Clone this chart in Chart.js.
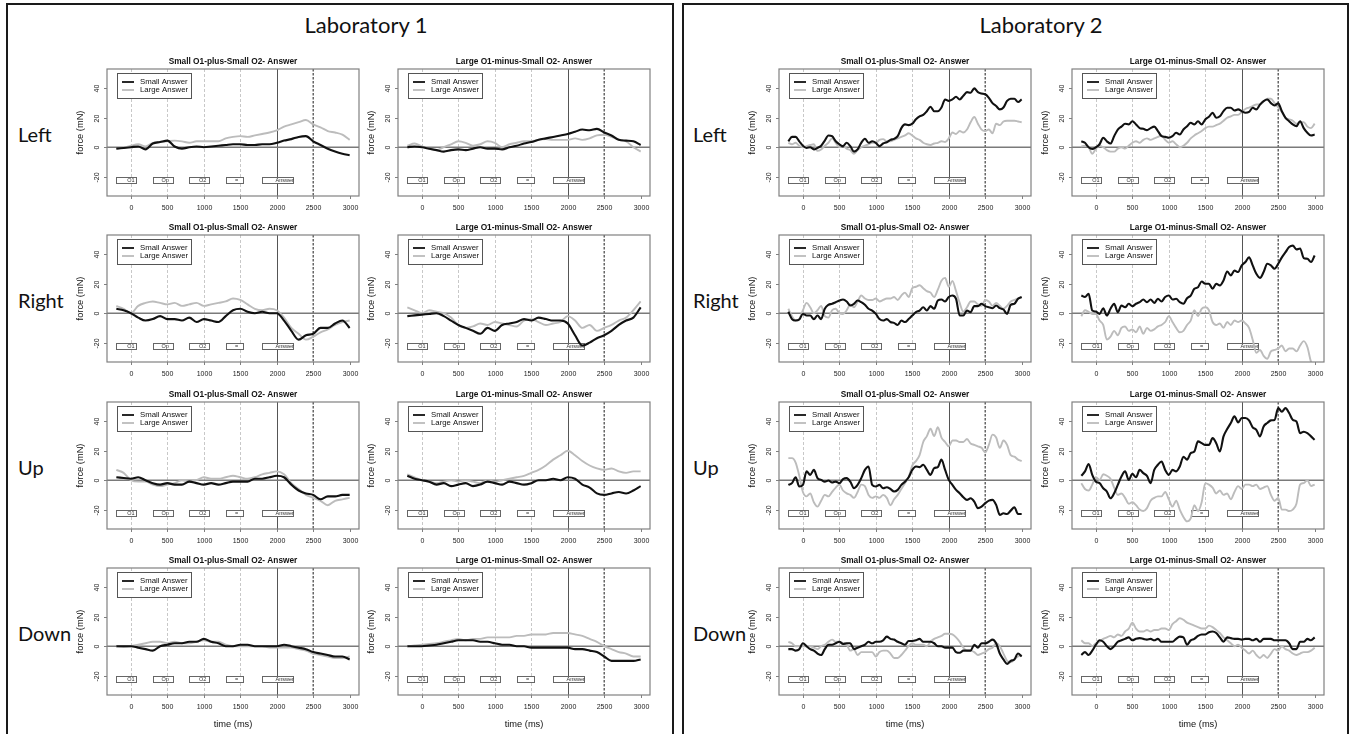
<!DOCTYPE html>
<html><head><meta charset="utf-8">
<script src="https://cdn.jsdelivr.net/npm/chart.js@4.4.1/dist/chart.umd.min.js"></script>
<style>
body{margin:0;background:#fff;width:1354px;height:734px;overflow:hidden;position:relative;font-family:'Liberation Sans',Arial,sans-serif}
.frame{position:absolute;border:2px solid #1a1a1a;box-sizing:border-box}
.lab{position:absolute;font-family:Lato,sans-serif;font-size:22px;line-height:22px;color:#111;white-space:nowrap;transform:translateX(-50%)}
.rowlab{position:absolute;font-family:Lato,sans-serif;font-size:20px;line-height:20px;color:#111;white-space:nowrap}
canvas{position:absolute}
</style></head><body>
<div class="frame" style="left:6px;top:3px;width:668px;height:745px"></div>
<div class="frame" style="left:682px;top:3px;width:667px;height:745px"></div>
<script>
// ---------------- DATA ----------------
const labTitles = ["Laboratory 1", "Laboratory 2"];
const rowNames = ["Left", "Right", "Up", "Down"];
const panelTitles = ["Small O1-plus-Small O2- Answer", "Large O1-minus-Small O2- Answer"];
const seriesNames = ["Small Answer", "Large Answer"];
const xTicks = [0, 500, 1000, 1500, 2000, 2500, 3000];
const yTicks = [-20, 0, 20, 40];
const eventLabels = ["O1", "Op", "O2", "=", "Answer"];
const eventStart = [-200, 300, 800, 1300, 1800];
const eventEnd = [80, 575, 1075, 1530, 2230];
const eventTextAt = [0, 470, 985, 1450, 2110];
const lightMarks = [0, 500, 1000, 1500];
const answerOnset = 2000;
const answerEnd = 2500;

const time100 = [-200,-100,0,100,200,300,400,500,600,700,800,900,1000,1100,1200,1300,1400,1500,1600,1700,1800,1900,2000,2100,2200,2300,2400,2500,2600,2700,2800,2900,3000];
const time50 = [-200,-150,-100,-50,0,50,100,150,200,250,300,350,400,450,500,550,600,650,700,750,800,850,900,950,1000,1050,1100,1150,1200,1250,1300,1350,1400,1450,1500,1550,1600,1650,1700,1750,1800,1850,1900,1950,2000,2050,2100,2150,2200,2250,2300,2350,2400,2450,2500,2550,2600,2650,2700,2750,2800,2850,2900,2950,3000];

// Laboratory 1 (100 ms grid)
const L1_left_A_small = [-1,-0.5,0,0.5,-1.5,2.5,3.5,4.5,0.5,-1,0,0.5,0,0.5,1,1.5,2,2,1.5,1.5,2,2,3,4.5,5.5,7,7.5,4,1.5,-1,-3,-4.5,-5.5];
const L1_left_A_large = [-1,-0.5,1,2,0.5,3,3.5,4,4.5,4,3,4,4,4,4,6,7,7.5,7,8,9,10,11.5,14,15.5,17,18.5,15.5,13.5,11,10,8.5,5];
const L1_left_B_small = [0,0.5,0,-1,-2,-3,-2,-1.5,-2,-1,0,-1,-1,-1.5,0,1,2.5,3.5,5,6,7,8,9,10.5,12,11.5,12.5,10,8,5,4.5,4,1.5];
const L1_left_B_large = [1,2.5,0.5,-1,-2,0,2,4,3,1,2,4,3,0,2,3,4,4,5,5.5,5,5,5,6,5,6,8,8.5,7,5,4,0,-3];
const L1_right_A_small = [3,2,0,-3,-5,-4,-2,-4,-4,-5,-3,-6,-4,-5,-6,-2,2,3,1,0,1,0,0,-5,-12,-18,-15,-14,-10,-10,-7,-5,-10];
const L1_right_A_large = [5,3,0,5,7,8,7,6,7,5,6,7,5,6,7,8,10,9,6,3,2,3,2,-3,-10,-14,-18,-16,-13,-11,-8,-6,-5];
const L1_right_B_small = [-2,-1.5,-1,-0.5,0,-2,-5,-8,-10,-12,-14,-10,-12,-8,-7,-6,-4,-5,-3,-4,-5,-5,-7,-15,-22,-20,-17,-15,-12,-8,-5,-3,4];
const L1_right_B_large = [4,2,0,2,1,0,-3,-8,-10,-9,-7,-8,-6,-7,-8,-9,-5,-4,-6,-8,-7,-6,-2,-5,-10,-8,-12,-10,-8,-5,-3,2,8];
const L1_up_A_small = [2,1.5,1,2,0,-2,-3,-2,-3,-3,-1,-2,-3,-2,-3,-2,-1,-1,-1,1,1,2,3,2,-3,-7,-9,-10,-13,-11,-11,-10,-10];
const L1_up_A_large = [7,5,0,-1,-1,-3,-4,-3,-2,0,-1,0,2,1,1,2,3,2,1,2,4,5,6,4,-2,-6,-10,-12,-14,-17,-14,-13,-12];
const L1_up_B_small = [3,1,0,-1,-3,-2,-4,-3,-2,-4,-3,-1,-2,-3,-1,-2,-3,-2,0,0,1,0,2,1,-3,-5,-9,-10,-9,-8,-9,-7,-4];
const L1_up_B_large = [4,2,0,-1,-2,-1,0,-1,0,-1,-2,0,-1,0,1,2,3,5,7,10,14,17,20,17,13,10,8,7,8,6,5,6,6];
const L1_down_A_small = [0,0,0,-1,-2,-3,0,1,2,2,3,3,5,3,2,0,0,1,1,0,0,0,0,1,0,-1,-2,-4,-5,-6,-7,-7,-9];
const L1_down_A_large = [0,-0.5,0,1,2,3,3,2,3,2,2,3,4,3,3,1,0,0,0,0,0,-1,-1,-1,-1,-2,-3,-5,-6,-7,-8,-8,-7];
const L1_down_B_small = [0,0,0,0.5,1,2,3,4,4,4,3,3,2,1,1,0,0,-1,-1,-1,-1,-1,-1,-2,-2,-3,-4,-7,-10,-10,-10,-10,-9];
const L1_down_B_large = [0,0.5,1,1.5,2,3,4,5,4,5,5,6,6,6,6,7,7,8,8,8,9,9,9,8,7,5,3,0,-2,-4,-5,-7,-7];

// Laboratory 2 (50 ms grid)
const L2_left_A_small = [4,7,7,4,1,-0.5,0,-1.5,-0.5,1,4.5,8,7.5,4,2,0.7,3,0.7,-3,-1.5,3,5.7,3,4,3,0.7,2.5,3.4,5,5.7,7.5,13,15.5,15,16,19,21,22,24.5,27.5,24.5,24.5,27,32.5,31.5,32.5,34.3,32.5,35,37.5,37,40,37.5,36.5,36,33.6,30,28,25.7,27,31.5,33,33,30.7,32.5];
const L2_left_A_large = [3,2,3,1,0,0.7,1.5,2,-2.5,-1.5,1,3,6,3,0,1,-1,-2,-4.5,-2,0,1,2,3,3,5,5.5,4,4,5,6,7,8,9.5,8,6,5,3,2,1.5,2.5,3,4,3.5,6,10,9,11,10,12,17,20.5,16,12,11,12,9.5,16,15,17.5,18,18,18,17.5,17];
const L2_left_B_small = [4,3,0,-1.2,0,2,6.4,4,2.5,7.5,12,14,16,15.5,17.7,15.5,13,12.5,11.6,13,14,11,7.5,7,6.4,7.5,9.8,8.6,12,14.3,16.6,15.5,17.7,15.5,18.9,20.7,23.4,20,21,24.5,26.8,26.8,25,25.7,24.5,23.4,24,26.8,25.7,29,31.4,32.5,30,28.4,29.8,24.5,20,17.7,15.5,14.3,17.7,13,9.8,8,8.6];
const L2_left_B_large = [0.5,1,0,-4.5,-1,1,0,-2,-3,-3,-1,0,-1,1,3,4,3,5,6,5,6,7,8,5,3,4,2,0,1,3,6,8,9.5,11,13,14,14,15,16,18,20,21,22,22,24,26,27,28,29,29,31,33,33,30,27,24,20,19,18,16,17,17,14,13,16];
const L2_right_A_small = [1,-4,-5,-4.3,-0.5,-1.6,-1.6,-4,-1.6,-4,3,5.7,6.4,7.5,8.6,9.3,8,5.2,6.4,8.6,7.5,5.7,3,1.8,-0.5,-4,-5,-4,-6,-6.6,-8,-5,-6,-4,-1.6,0.7,1.8,4,1.8,4.8,3,8.6,9.3,8,11,12,9.8,-1.6,-1.6,1.8,0.7,4.8,4.8,6.4,4.8,4,3.4,5.2,3.4,2.5,-0.5,5.7,6.4,9.8,11];
const L2_right_A_large = [3,-2,-5,-4,2,7,4,0,2,5,-2,-3,2,3,0,-0.5,2,6,4,8,12,10,9,9,10,8,9,10,10,11,9,12,14,11,17,18,19,17,15,14,11,16,22,24,18,22,15,7,1,4,8,8,6,5,9,8,5,7,5,3,5,8,9,10,11];
const L2_right_B_small = [12,11,13.2,1.8,1.1,-0.5,3.4,-1.6,3,6.4,0.7,5.2,4,6.4,4.8,6.4,7.5,9.3,7.5,9.3,7,9.8,8,11,12,9.3,9.8,7.5,6.4,10.2,12,16.6,17.7,21.6,20,20,16.6,20,18.9,22.3,28.4,25.7,29,28,32.5,34.8,38,32.5,26.8,24,28,33.6,32.5,30.2,33.6,38,41.5,45,46,43.4,44,37.5,37,34.8,39.3];
const L2_right_B_large = [-2,2,1,-0.5,-0.5,-5,-8,-18,-16,-12,-15,-10,-9,-12,-11,-13,-9,-14,-10,-12,-11,-9,-8,-6,-2,-6,-10,-13,-12,-8,-5,2,-2,3,4,2,-6,-8,-7,-10,-6,-8,-5,-6,-5,-7,-10,-18,-27,-25,-29,-31,-26,-25,-24,-22,-26,-24,-24,-26,-22,-19,-23,-33,-36];
const L2_up_A_small = [-3.2,-2,2,-4.3,-3.2,6,3.6,7,1.4,0.2,-1,-0.2,-1.6,-1,-2,0.7,1.4,-1,-5.5,-3.2,1.4,7,9.3,-3.2,-4.3,-3.2,-5.5,-4.8,-6,-7.7,-6.6,-3.2,-1,2,7,9.3,8.9,10.5,7,3.6,8.2,8.9,14,7,0.2,-3.2,-6.6,-8.9,-11.6,-13.4,-12.3,-14.5,-19,-18,-15.7,-13.9,-13.4,-16.8,-23.6,-22.5,-23,-20.7,-18.4,-23,-23];
const L2_up_A_large = [15,15,12,3,-8,-11,-9,-15,-18,-14,-10,-11,-8,-5,-3,-7,-9,-10,-12,-8,-3,-4,-10,-12,-11,-12,-10,-12,-17,-13,-10,-6,-2,2,10,13,17,26,30,35,30,36,29,26,23,27,27,26,26,28,25,24,23,22,19,24,31,29,22,27,24,17,16,14,13];
const L2_up_B_small = [3,6,11,3.6,-1,-2,-5.5,-7.7,-12.3,-8.9,-3.2,2.5,6,0.2,4.3,2,7,4.8,3,-2,7,10.5,12.7,7,3.6,7,6,9.3,16,14,18.4,19.5,26.4,25.2,24,24,28.6,25.2,19.5,29.8,34.8,38.9,43.4,39.3,42.3,42.3,40.7,36,34.3,29.8,36.6,38.9,40.7,41,49,46.6,49,45.7,41,40,32,33,32,29.8,27.5];
const L2_up_B_large = [-2,-6,-7,-3,2,0,4,3,1,-5,-10,-9,-12,-16,-15,-17,-20,-21,-19,-14,-12,-11,-11,-8,-13,-18,-14,-20,-25,-28,-26,-17,-21,-15,-2,-3,-5,-9,-7,-10,-9,-13,-8,-4,-6,-3,-3,-4,-3,-6,-5,-4,-10,-14,-12,-20,-20,-21,-20,-16,-3,-2,0,-4,-3];
const L2_down_A_small = [-2,-2,-3,-2,2,0,-2,-3,-5,-6,-2,1,1,2,3,1.5,2,2,-2,-1,0,1,3,2,3,3,4,6.5,5,4.5,3,2,1,3.5,3.5,4,5,3,3,3,2,0,0,-1,-1,-1,-4,-4.5,-3,-3,-3,1,-1,2,2,3,4.5,2,-5,-9,-12,-10,-9,-5,-7];
const L2_down_A_large = [3,2,0,0,0,0,0,-1,-2,0,1,3,4.5,3,3,2,1,-3,-2,-6,-4,-4,-4,-4,-7,-4,-3,-3,-5,-8,-8,-6,-3,0,2,1,1,1,0,3,5,6,7,8.5,8.5,8,6,3,-1,-3,-3,-4,-6,-5,-4,-2,-1,2,0,-5,-10,-11,-9,-7,-6];
const L2_down_B_small = [-6,-4,-6,-3,1,4,3,0,-2,0,3,4,5,6,4,5,5.5,5,4.5,5,4,5,3,3,3,3,5,6.5,6,1,4,5,7,8,8,9.5,10,9,6,3,6,5.5,5,5,4.5,5,5,4,5,3,5,5,5,4,4,4,4,2,-2,-2,3,3,5,4,6];
const L2_down_B_large = [4,2,2,0,2,3,5,6,7,6,8,7,10,12,16,12,10,10,11,10,11,11,12,12,11,15,17,19,18,16,15,14,13,12,12,14,13,11,9,6,4,2,0,1,-1,-3,-5,-3,-6,-8,-6,-8,-5,-2,-3,0,-2,-3,-5,-6,-5,-4,-4,-3,-1];

const panels = [
  [0,0,0,time100,L1_left_A_small,L1_left_A_large],[0,0,1,time100,L1_left_B_small,L1_left_B_large],
  [0,1,0,time100,L1_right_A_small,L1_right_A_large],[0,1,1,time100,L1_right_B_small,L1_right_B_large],
  [0,2,0,time100,L1_up_A_small,L1_up_A_large],[0,2,1,time100,L1_up_B_small,L1_up_B_large],
  [0,3,0,time100,L1_down_A_small,L1_down_A_large],[0,3,1,time100,L1_down_B_small,L1_down_B_large],
  [1,0,0,time50,L2_left_A_small,L2_left_A_large],[1,0,1,time50,L2_left_B_small,L2_left_B_large],
  [1,1,0,time50,L2_right_A_small,L2_right_A_large],[1,1,1,time50,L2_right_B_small,L2_right_B_large],
  [1,2,0,time50,L2_up_A_small,L2_up_A_large],[1,2,1,time50,L2_up_B_small,L2_up_B_large],
  [1,3,0,time50,L2_down_A_small,L2_down_A_large],[1,3,1,time50,L2_down_B_small,L2_down_B_large]
];

// ---------------- LAYOUT ----------------
const colLeft = [107, 398, 779, 1072];
const rowTop = [69, 235, 402, 568];
const boxW = 252, boxH = 127;
const padL = 44, padT = 16, padR = 6, padB = 36;
const labCenter = [366, 1041];
const rowLabX = [18, 693];
const FONT = "'Liberation Sans', Arial, sans-serif";
const GRAY_LINE = '#bcbcbc';

labTitles.forEach((t, i) => {
  const d = document.createElement('div');
  d.className = 'lab'; d.textContent = t;
  d.style.left = labCenter[i] + 'px'; d.style.top = '14px';
  document.body.appendChild(d);
  rowNames.forEach((r, j) => {
    const e = document.createElement('div');
    e.className = 'rowlab'; e.textContent = r;
    e.style.left = rowLabX[i] + 'px'; e.style.top = (rowTop[j] + 55) + 'px';
    document.body.appendChild(e);
  });
});

const panelPlugin = {
  id: 'panel',
  beforeDatasetsDraw(chart, args, o) {
    const {ctx, chartArea: a, scales: {x, y}} = chart;
    ctx.save();
    ctx.beginPath(); ctx.rect(a.left, a.top, a.right - a.left, a.bottom - a.top); ctx.clip();
    ctx.strokeStyle = '#c8c8c8'; ctx.lineWidth = 1; ctx.setLineDash([3, 2]);
    lightMarks.forEach(v => { const px = Math.round(x.getPixelForValue(v)) + 0.5; ctx.beginPath(); ctx.moveTo(px, a.top); ctx.lineTo(px, a.bottom); ctx.stroke(); });
    ctx.strokeStyle = '#505050'; ctx.lineWidth = 1.3; ctx.setLineDash([2.5, 1.5]);
    { const px = x.getPixelForValue(answerEnd); ctx.beginPath(); ctx.moveTo(px, a.top); ctx.lineTo(px, a.bottom); ctx.stroke(); }
    ctx.setLineDash([]);
    ctx.strokeStyle = '#555'; ctx.lineWidth = 1;
    { const px = Math.round(x.getPixelForValue(answerOnset)) + 0.5; ctx.beginPath(); ctx.moveTo(px, a.top); ctx.lineTo(px, a.bottom); ctx.stroke(); }
    ctx.strokeStyle = '#7a7a7a'; ctx.lineWidth = 1.5;
    { const py = y.getPixelForValue(0); ctx.beginPath(); ctx.moveTo(a.left, py); ctx.lineTo(a.right, py); ctx.stroke(); }
    const yt = y.getPixelForValue(-20.5), yb = y.getPixelForValue(-24.7);
    ctx.font = '5.5px ' + FONT; ctx.textAlign = 'center'; ctx.textBaseline = 'middle';
    eventLabels.forEach((lab, i) => {
      const x0 = x.getPixelForValue(eventStart[i]), x1 = x.getPixelForValue(eventEnd[i]);
      ctx.fillStyle = '#fff'; ctx.fillRect(x0, yt, x1 - x0, yb - yt);
      ctx.strokeStyle = '#666'; ctx.lineWidth = 1; ctx.strokeRect(Math.round(x0) + 0.5, Math.round(yt) + 0.5, Math.round(x1 - x0), Math.round(yb - yt));
      ctx.fillStyle = '#333'; ctx.fillText(lab, x.getPixelForValue(eventTextAt[i]), (yt + yb) / 2 + 0.5);
    });
    ctx.restore();
  },
  afterDatasetsDraw(chart, args, o) {
    const {ctx, chartArea: a, scales: {x, y}} = chart;
    ctx.save();
    ctx.strokeStyle = '#808080'; ctx.lineWidth = 1.2;
    ctx.strokeRect(a.left, a.top, a.right - a.left, a.bottom - a.top);
    const lx = a.left + 10, ly = a.top + 4, lw = 74, lh = 25;
    ctx.fillStyle = '#fff'; ctx.fillRect(lx, ly, lw, lh);
    ctx.strokeStyle = '#555'; ctx.lineWidth = 1; ctx.strokeRect(lx + 0.5, ly + 0.5, lw, lh);
    ctx.font = '7.8px ' + FONT; ctx.textAlign = 'left'; ctx.textBaseline = 'middle';
    const cols = ['#111', GRAY_LINE];
    seriesNames.forEach((s, i) => {
      const yy = ly + 9 + i * 8;
      ctx.strokeStyle = cols[i]; ctx.lineWidth = 1.8;
      ctx.beginPath(); ctx.moveTo(lx + 5, yy); ctx.lineTo(lx + 17, yy); ctx.stroke();
      ctx.fillStyle = '#111'; ctx.fillText(s, lx + 23, yy);
    });
    ctx.strokeStyle = '#808080'; ctx.lineWidth = 1;
    ctx.fillStyle = '#222'; ctx.font = '7px ' + FONT;
    ctx.textAlign = 'center'; ctx.textBaseline = 'middle';
    xTicks.forEach(v => {
      const px = Math.round(x.getPixelForValue(v)) + 0.5;
      ctx.beginPath(); ctx.moveTo(px, a.bottom); ctx.lineTo(px, a.bottom + 3); ctx.stroke();
      ctx.fillText(String(v), px, a.bottom + 12);
    });
    yTicks.forEach(v => {
      const py = Math.round(y.getPixelForValue(v)) + 0.5;
      ctx.beginPath(); ctx.moveTo(a.left, py); ctx.lineTo(a.left - 3, py); ctx.stroke();
      ctx.save(); ctx.translate(a.left - 10, py); ctx.rotate(-Math.PI / 2);
      ctx.fillText(String(v), 0, 0); ctx.restore();
    });
    ctx.fillStyle = '#111'; ctx.font = '9.3px ' + FONT;
    ctx.save(); ctx.translate(a.left - 27, (a.top + a.bottom) / 2); ctx.rotate(-Math.PI / 2);
    ctx.fillText('force (mN)', 0, 0); ctx.restore();
    if (o.showX) ctx.fillText('time (ms)', (a.left + a.right) / 2, a.bottom + 29);
    ctx.font = 'bold 8.3px ' + FONT; ctx.fillStyle = '#111';
    ctx.fillText(o.title, (a.left + a.right) / 2, a.top - 7.5);
    ctx.restore();
  }
};

panels.forEach(([lab, row, col, times, small, large]) => {
  const bx = colLeft[lab * 2 + col], by = rowTop[row];
  const W = boxW + padL + padR, H = boxH + padT + padB;
  const cv = document.createElement('canvas');
  cv.width = W; cv.height = H;
  cv.style.left = (bx - padL) + 'px'; cv.style.top = (by - padT) + 'px';
  cv.style.width = W + 'px'; cv.style.height = H + 'px';
  document.body.appendChild(cv);
  new Chart(cv, {
    type: 'line',
    data: {
      datasets: [
        { label: seriesNames[0], data: times.map((t, i) => ({x: t, y: small[i]})), borderColor: '#111', borderWidth: 2.1, clip: 0 },
        { label: seriesNames[1], data: times.map((t, i) => ({x: t, y: large[i]})), borderColor: GRAY_LINE, borderWidth: 1.9, clip: 0 }
      ]
    },
    options: {
      responsive: false, animation: false, devicePixelRatio: 1,
      layout: { padding: { left: padL, top: padT, right: padR, bottom: padB } },
      elements: { point: { radius: 0 }, line: { tension: 0.3, cubicInterpolationMode: 'monotone' } },
      plugins: { legend: { display: false }, tooltip: { enabled: false }, title: { display: false },
        panel: { title: panelTitles[col], showX: row === 3 } },
      scales: {
        x: { type: 'linear', min: -328, max: 3128, display: false },
        y: { type: 'linear', min: -33.2, max: 53.2, display: false }
      }
    },
    plugins: [panelPlugin]
  });
});
</script>
</body></html>
